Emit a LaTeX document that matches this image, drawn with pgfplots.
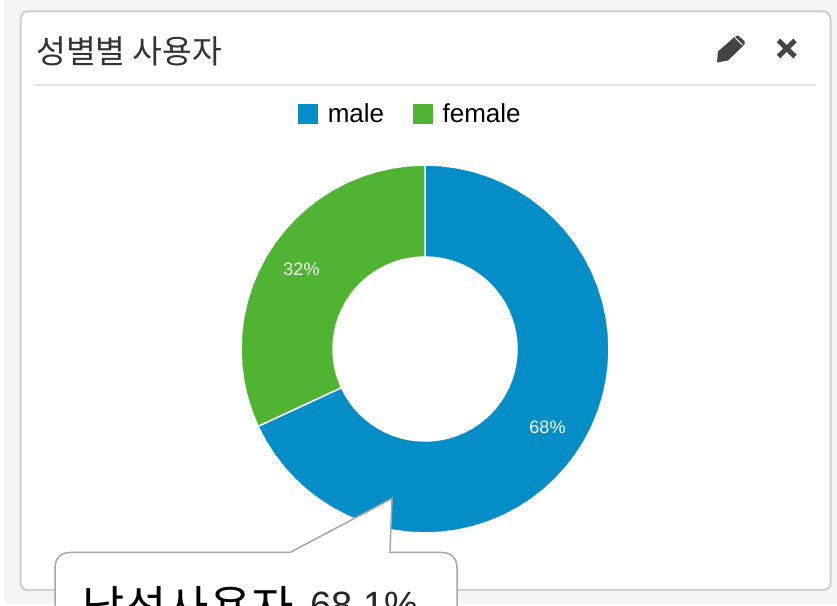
\documentclass[border=0pt]{standalone}
\usepackage{fontspec}
\setmainfont{Liberation Sans}
\newfontfamily\kr{Noto Sans CJK KR}
\usepackage{pgfplots}
\pgfplotsset{compat=1.18}
\definecolor{male}{HTML}{058DC7}
\definecolor{female}{HTML}{50B432}
\definecolor{page}{HTML}{F5F5F5}
\definecolor{edge}{HTML}{CFCFCF}
\definecolor{rule}{HTML}{E6E6E6}
\definecolor{icon}{HTML}{444444}
\definecolor{ink}{HTML}{333333}
\begin{document}
\begin{tikzpicture}
\clip (0,0) rectangle (837bp,606bp);
\begin{axis}[
    at={(0,0)}, anchor=south west,
    scale only axis, width=837bp, height=606bp,
    xmin=-425, xmax=412, ymin=-257, ymax=349,
    axis lines=none, clip=false,
    data cs=polar,
    legend columns=2,
    legend cell align=left,
    legend style={at={(axis cs:-14.5,235)}, anchor=center, draw=none, fill=none,
        font=\fontsize{26bp}{28bp}\selectfont, inner sep=0pt,
        /tikz/every even column/.append style={column sep=27bp}},
    legend image code/.code={
        \path[#1,draw=none] (0bp,-10bp) rectangle (20bp,10bp);
        \path[draw=none,fill=none] (0bp,0bp) -- (27.5bp,0bp);},
]
% page and card, origin top left in pixels
\begin{scope}[shift={(axis cs:-425,349)}, x=1bp, y=-1bp]
  \fill[white] (0,0) rectangle (837,606);
  \fill[page] (5,0) rectangle (837,603);
  \draw[edge, line width=2bp, fill=white, rounded corners=7bp] (20.5,11.5) rectangle (830.5,590);
  \draw[rule, line width=2bp] (35,85) -- (816,85);
  \node[anchor=base west, inner sep=0pt, text=ink, font=\kr\fontsize{32.4bp}{34bp}\selectfont] at (36,64) {성별별 사용자};
  % pencil
  \fill[icon] (717,62.5) -- (718,51.5) -- (734.5,37) -- (738,35.5) -- (744.5,41) -- (744.5,44.5) -- (728,60.5) -- cycle;
  \draw[white, line width=0.9bp] (735,37.5) -- (742.5,45);
  % close
  \draw[icon, line width=5bp] (778.5,40.5) -- (795,56.5) (795,40.5) -- (778.5,56.5);
\end{scope}
% 68.1 % and 31.9 %, clockwise from the top
\addplot[draw=white, line width=1.5bp, fill=male] coordinates {
 (90,184) (85,184) (80,184) (75,184) (70,184) (65,184) (60,184) (55,184) (50,184) (45,184)
 (40,184) (35,184) (30,184) (25,184) (20,184) (15,184) (10,184) (5,184) (0,184) (-5,184)
 (-10,184) (-15,184) (-20,184) (-25,184) (-30,184) (-35,184) (-40,184) (-45,184) (-50,184) (-55,184)
 (-60,184) (-65,184) (-70,184) (-75,184) (-80,184) (-85,184) (-90,184) (-95,184) (-100,184) (-105,184)
 (-110,184) (-115,184) (-120,184) (-125,184) (-130,184) (-135,184) (-140,184) (-145,184) (-150,184) (-155,184) (-155.16,184)
 (-155.16,92) (-155,92) (-150,92) (-145,92) (-140,92) (-135,92) (-130,92) (-125,92) (-120,92) (-115,92)
 (-110,92) (-105,92) (-100,92) (-95,92) (-90,92) (-85,92) (-80,92) (-75,92) (-70,92) (-65,92)
 (-60,92) (-55,92) (-50,92) (-45,92) (-40,92) (-35,92) (-30,92) (-25,92) (-20,92) (-15,92)
 (-10,92) (-5,92) (0,92) (5,92) (10,92) (15,92) (20,92) (25,92) (30,92) (35,92)
 (40,92) (45,92) (50,92) (55,92) (60,92) (65,92) (70,92) (75,92) (80,92) (85,92) (90,92)
} --cycle;
\addlegendentry{male}
\addplot[draw=white, line width=1.5bp, fill=female] coordinates {
 (204.84,184) (200,184) (195,184) (190,184) (185,184) (180,184) (175,184) (170,184) (165,184) (160,184)
 (155,184) (150,184) (145,184) (140,184) (135,184) (130,184) (125,184) (120,184) (115,184) (110,184)
 (105,184) (100,184) (95,184) (90,184)
 (90,92) (95,92) (100,92) (105,92) (110,92) (115,92) (120,92) (125,92) (130,92) (135,92)
 (140,92) (145,92) (150,92) (155,92) (160,92) (165,92) (170,92) (175,92) (180,92) (185,92)
 (190,92) (195,92) (200,92) (204.84,92)
} --cycle;
\addlegendentry{female}
\begin{scope}[shift={(axis cs:-425,349)}, x=1bp, y=-1bp]
  \node[text=white, inner sep=0pt, font=\fontsize{18bp}{20bp}\selectfont] at (301.5,269) {32\%};
  \node[text=white, inner sep=0pt, font=\fontsize{18bp}{20bp}\selectfont] at (547.5,427) {68\%};
  % callout
  \draw[black!35, line width=1.5bp, fill=white]
    (290,552.5) -- (392,498.5) -- (390,552.5) -- (442,552.5)
    .. controls (451,552.5) and (457,558.5) .. (457,567.5) -- (457,620) -- (55,620) -- (55,567.5)
    .. controls (55,558.5) and (61,552.5) .. (70,552.5) -- cycle;
  \node[anchor=base west, inner sep=0pt, text=black, font=\kr\fontsize{46bp}{48bp}\selectfont] at (82,625) {남성사용자};
  \node[anchor=base west, inner sep=0pt, text=black!85, font=\fontsize{38bp}{40bp}\selectfont] at (310,619) {68.1\%};
\end{scope}
\end{axis}
\end{tikzpicture}
\end{document}
